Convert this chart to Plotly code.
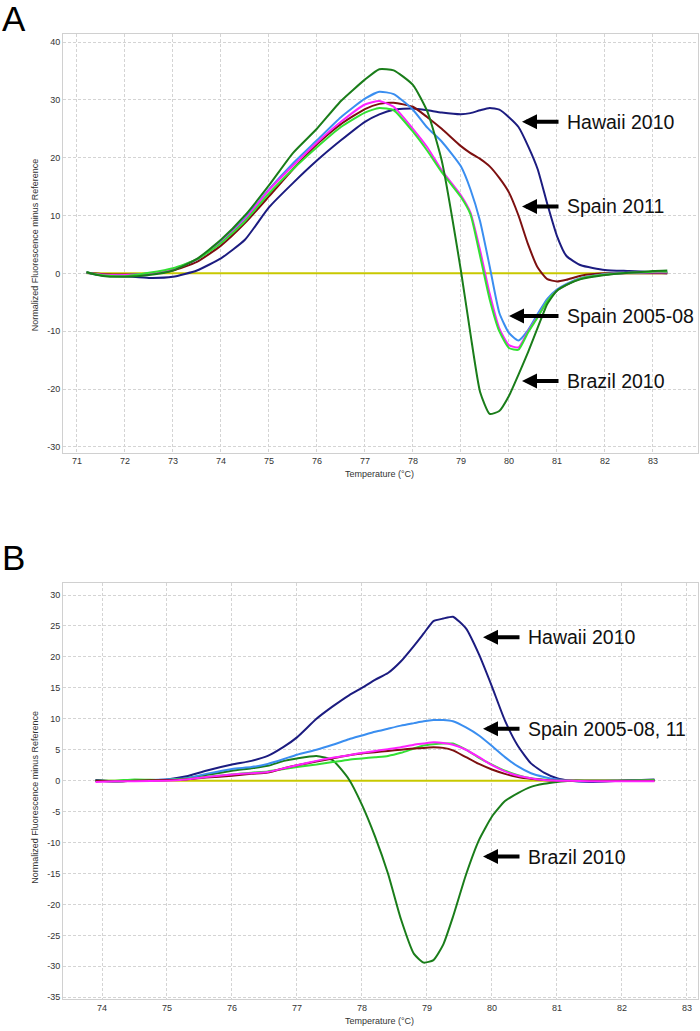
import plotly.graph_objects as go

# ---------------- Panel A data ----------------
xA = [71.2, 71.5, 72, 72.5, 73, 73.5, 74, 74.5, 75, 75.5, 76, 76.5, 77, 77.3, 77.6, 78, 78.3, 78.6,
      79, 79.2, 79.4, 79.6, 79.8, 80, 80.2, 80.4, 80.6, 80.8, 81, 81.2, 81.5, 82, 82.5, 83, 83.3]
A_hawaii = [0.2, -0.3, -0.5, -0.8, -0.6, 0.5, 2.6, 5.8, 11.4, 15.6, 19.5, 23.0, 26.2, 27.5, 28.3, 28.5, 28.2, 27.8,
            27.5, 27.7, 28.2, 28.6, 28.3, 27.0, 25.3, 22.0, 18.0, 12.0, 6.5, 3.0, 1.4, 0.6, 0.4, 0.2, 0.0]
A_brazil = [0.2, -0.4, -0.6, -0.3, 0.5, 2.5, 5.8, 10.0, 15.2, 20.8, 25.0, 29.8, 33.5, 35.3, 35.1, 32.6, 28.0, 19.5,
            0.5, -10.5, -20.5, -24.3, -23.8, -21.2, -17.5, -13.6, -9.4, -5.3, -3.0, -2.0, -1.0, -0.3, 0.1, 0.4, 0.5]
A_blue = [0.1, -0.3, -0.3, 0.0, 0.7, 2.4, 5.4, 9.5, 14.5, 19.0, 23.0, 27.0, 30.2, 31.4, 31.0, 28.3, 25.2, 22.8,
          18.5, 14.5, 9.0, 1.2, -6.8, -10.3, -11.6, -9.8, -7.0, -4.4, -2.8, -1.8, -0.8, -0.1, 0.1, 0.2, 0.2]
A_magenta = [0.1, -0.2, -0.3, 0.0, 0.7, 2.4, 5.3, 9.3, 14.4, 18.6, 22.6, 26.2, 29.2, 29.8, 28.8, 25.0, 21.8, 17.8,
             13.5, 10.5, 4.0, -3.5, -9.5, -12.4, -12.8, -10.0, -7.5, -4.8, -3.0, -2.0, -0.9, -0.2, 0.1, 0.2, 0.2]
A_lime = [0.2, -0.3, -0.5, 0.1, 0.9, 2.4, 5.2, 9.0, 13.8, 18.0, 21.8, 25.3, 27.8, 28.6, 28.2, 24.5, 21.2, 17.5,
          13.2, 10.2, 3.0, -4.5, -10.0, -12.9, -13.2, -10.2, -7.6, -4.8, -3.0, -2.0, -0.9, -0.2, 0.1, 0.3, 0.3]
A_spain2011 = [0.1, -0.1, -0.2, -0.1, 0.5, 2.0, 4.8, 8.7, 13.3, 18.0, 22.3, 25.8, 28.4, 29.3, 29.5, 28.8, 27.0, 25.0,
               22.0, 20.8, 19.8, 18.5, 16.5, 14.0, 10.0, 5.0, 1.0, -1.0, -1.4, -1.1, -0.4, 0.0, 0.0, 0.0, 0.0]
A_ref = [0.0] * len(xA)

# ---------------- Panel B data ----------------
xB = [73.9, 74.2, 74.5, 75, 75.3, 75.6, 76, 76.3, 76.55, 76.8, 77, 77.3, 77.55, 77.8, 78, 78.2, 78.4, 78.6,
      78.8, 78.95, 79.1, 79.25, 79.4, 79.6, 79.8, 80, 80.2, 80.4, 80.6, 80.8, 81, 81.2, 81.5, 82, 82.5]
B_hawaii = [0.1, -0.1, 0.0, 0.2, 0.7, 1.6, 2.6, 3.2, 4.0, 5.5, 7.0, 10.0, 12.0, 13.8, 15.0, 16.3, 17.4, 19.3,
            21.8, 23.8, 25.8, 26.2, 26.5, 24.6, 20.4, 15.2, 9.7, 5.6, 2.8, 1.3, 0.4, 0.0, -0.2, 0.0, 0.2]
B_blue = [0.0, -0.1, 0.0, 0.2, 0.4, 1.1, 1.9, 2.2, 2.7, 3.5, 4.2, 5.0, 5.8, 6.7, 7.3, 7.9, 8.4, 8.9,
          9.3, 9.6, 9.8, 9.8, 9.6, 8.6, 7.3, 5.6, 3.8, 2.3, 1.2, 0.6, 0.2, 0.0, -0.1, 0.0, 0.1]
B_magenta = [-0.2, -0.1, -0.1, 0.0, 0.2, 0.6, 1.0, 1.2, 1.4, 2.0, 2.5, 3.2, 3.7, 4.1, 4.5, 4.8, 5.1, 5.4,
             5.8, 6.0, 6.2, 6.1, 5.8, 5.0, 3.8, 2.5, 1.5, 0.8, 0.4, 0.1, 0.0, 0.0, -0.1, -0.1, -0.1]
B_lime = [0.0, 0.0, 0.2, 0.1, 0.3, 0.6, 1.0, 1.3, 1.5, 1.9, 2.2, 2.6, 3.0, 3.4, 3.6, 3.8, 4.0, 4.5,
          5.2, 5.7, 5.9, 6.0, 6.0, 5.0, 3.7, 2.6, 1.6, 0.9, 0.4, 0.2, 0.0, 0.0, 0.0, 0.0, 0.1]
B_spain2011 = [0.0, -0.1, 0.0, 0.1, 0.2, 0.5, 0.8, 1.1, 1.3, 2.0, 2.5, 3.1, 3.6, 4.1, 4.4, 4.6, 4.8, 5.0,
               5.2, 5.3, 5.4, 5.3, 4.9, 3.8, 2.7, 1.8, 1.1, 0.6, 0.3, 0.1, 0.0, 0.0, 0.0, 0.0, 0.0]
B_brazil = [0.0, -0.1, 0.0, 0.1, 0.4, 0.9, 1.6, 2.0, 2.4, 3.2, 3.6, 4.0, 3.3, 0.2, -3.9, -9.0, -15.0, -22.4,
            -28.0, -29.4, -29.0, -26.5, -22.0, -15.2, -9.6, -5.8, -3.3, -2.0, -1.0, -0.5, -0.2, 0.0, 0.0, 0.0, 0.1]
B_ref = [0.0] * len(xB)

# tick labels
A_xticks = list(range(71, 84))
A_yticks = [-30, -20, -10, 0, 10, 20, 30, 40]
B_xticks = list(range(74, 84))
B_yticks = [-35, -30, -25, -20, -15, -10, -5, 0, 5, 10, 15, 20, 25, 30]

# labels
A_labels = ["Hawaii 2010", "Spain 2011", "Spain 2005-08", "Brazil 2010"]
B_labels = ["Hawaii 2010", "Spain 2005-08, 11", "Brazil 2010"]

C_NAVY = "#1c1c80"
C_RED = "#7d1010"
C_BLUE = "#3a8ef0"
C_MAG = "#ff22ff"
C_LIME = "#33e033"
C_DGREEN = "#1a7d1a"
C_YEL = "#c8c800"

W, H = 700, 1031
fig = go.Figure()

def add(x, y, color, xa, ya):
    fig.add_trace(go.Scatter(x=x, y=y, mode="lines", line=dict(color=color, width=2, shape="spline", smoothing=0.5),
                             xaxis=xa, yaxis=ya, showlegend=False, hoverinfo="skip"))

for y, c in [(A_ref, C_YEL), (A_hawaii, C_NAVY), (A_spain2011, C_RED), (A_blue, C_BLUE),
             (A_magenta, C_MAG), (A_lime, C_LIME), (A_brazil, C_DGREEN)]:
    add(xA, y, c, "x", "y")
for y, c in [(B_ref, C_YEL), (B_brazil, C_DGREEN), (B_hawaii, C_NAVY), (B_blue, C_BLUE),
             (B_lime, C_LIME), (B_spain2011, C_RED), (B_magenta, C_MAG)]:
    add(xB, y, c, "x2", "y2")

tickfont = dict(family="Liberation Sans, Arial, sans-serif", size=9, color="#333333")
grid = dict(showgrid=True, gridcolor="#d4d4d4", gridwidth=1, griddash="3px,2px",
            zeroline=False, showline=True, linecolor="#d0d0d0", linewidth=1, mirror=True,
            ticks="", tickfont=tickfont)

def py(p):
    return 1 - p / H

fig.update_layout(
    width=W, height=H, margin=dict(l=0, r=0, t=0, b=0),
    paper_bgcolor="white", plot_bgcolor="white",
    xaxis=dict(domain=[63 / W, 698 / W], range=[70.71, 83.94], anchor="y",
               tickvals=A_xticks, ticktext=[str(v) for v in A_xticks], **grid),
    yaxis=dict(domain=[py(454), py(34)], range=[-31.0, 41.4], anchor="x",
               tickvals=A_yticks, ticktext=[str(v) for v in A_yticks], **grid),
    xaxis2=dict(domain=[63 / W, 698 / W], range=[73.4, 83.17], anchor="y2",
                tickvals=B_xticks, ticktext=[str(v) for v in B_xticks], **grid),
    yaxis2=dict(domain=[py(1002), py(585)], range=[-35.3, 31.9], anchor="x2",
                tickvals=B_yticks, ticktext=[str(v) for v in B_yticks], **grid),
)

ann = []
small = dict(family="Liberation Sans, Arial, sans-serif", size=9, color="#333333")
# panel letters
ann.append(dict(x=0, y=py(-3), xref="paper", yref="paper", text="A", showarrow=False,
                xanchor="left", yanchor="top", font=dict(family="Liberation Sans, Arial", size=35, color="black")))
ann.append(dict(x=0, y=py(538), xref="paper", yref="paper", text="B", showarrow=False,
                xanchor="left", yanchor="top", font=dict(family="Liberation Sans, Arial", size=35, color="black")))
# axis titles
for yc in [246, 800]:
    ann.append(dict(x=35 / W, y=py(yc), xref="paper", yref="paper", text="Normalized Fluorescence minus Reference",
                    showarrow=False, textangle=-90, xanchor="center", yanchor="middle", font=small))
for yc in [475, 1024]:
    ann.append(dict(x=380 / W, y=py(yc), xref="paper", yref="paper", text="Temperature (°C)",
                    showarrow=False, xanchor="center", yanchor="middle", font=small))

lab_font = dict(family="Liberation Sans, Arial, sans-serif", size=19.5, color="#111111")

def arrow_label(head_x, tail_x, ypix, text_x, text):
    ann.append(dict(x=head_x / W, y=py(ypix), xref="paper", yref="paper", text="", showarrow=True,
                    ax=tail_x - head_x, ay=0, axref="pixel", ayref="pixel",
                    arrowhead=2, arrowsize=0.75, arrowwidth=4, arrowcolor="black", standoff=0, startstandoff=0))
    ann.append(dict(x=text_x / W, y=py(ypix), xref="paper", yref="paper", text=text, showarrow=False,
                    xanchor="left", yanchor="middle", font=lab_font))

for (hx, yp, t) in zip([522, 522, 509, 522], [122, 207, 317, 382], A_labels):
    arrow_label(hx, 560, yp, 565, t)
for (hx, yp, t) in zip([483, 483, 483], [639, 731, 859], B_labels):
    arrow_label(hx, 521, yp, 526, t)

fig.update_layout(annotations=ann)
fig.write_html("out.html", config={"displayModeBar": False},
               post_script="document.body.style.margin='0px';document.body.style.overflow='hidden';")
